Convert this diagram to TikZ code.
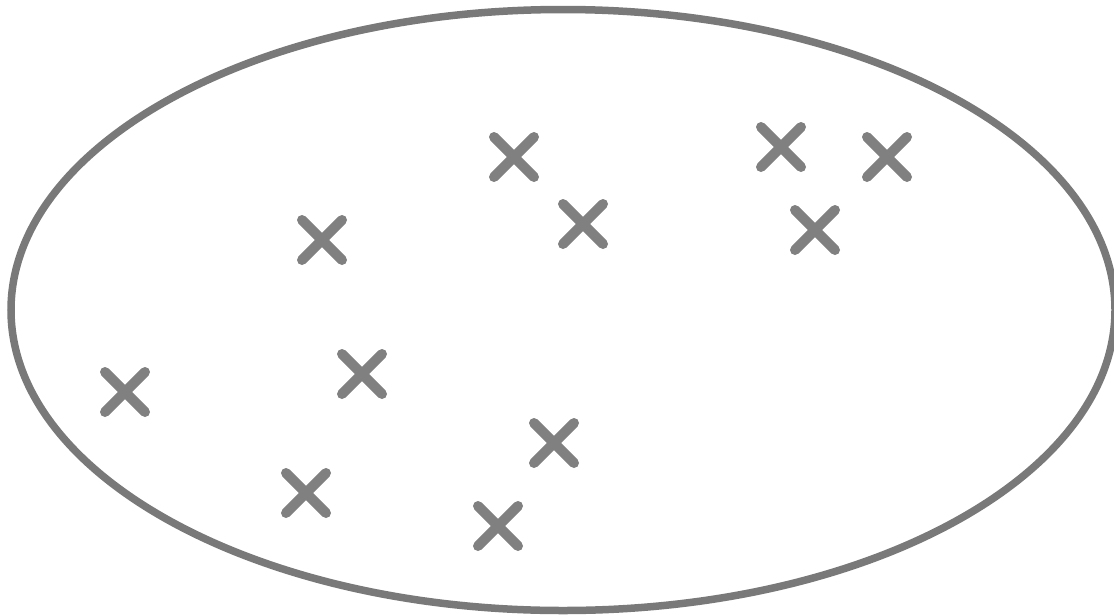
\documentclass[tikz,border=0pt]{standalone}
\usetikzlibrary{shapes.geometric}
\begin{document}
\begin{tikzpicture}[x=1pt,y=-1pt,
  xline/.style={draw=gray,line width=10pt,line cap=round},
  ring/.style={draw=gray!95!black,line width=7.5pt}]
\useasboundingbox (0,0) rectangle (1114,614);
\node[ring,ellipse,inner sep=0pt,minimum width=1104pt,minimum height=601pt] (E) at (563,310) {};
\foreach \n/\x/\y in {a/514/157,b/583/224,c/322/240,d/781/147,e/887/157,f/815/230,g/125/392,h/362/374,i/554/443,j/306/493,k/498/526}{
  \coordinate (\n) at (\x,\y);
  \draw[xline] ([shift={(-20,-20)}]\n) -- ([shift={(20,20)}]\n);
  \draw[xline] ([shift={(-20,20)}]\n) -- ([shift={(20,-20)}]\n);
}
\end{tikzpicture}
\end{document}
